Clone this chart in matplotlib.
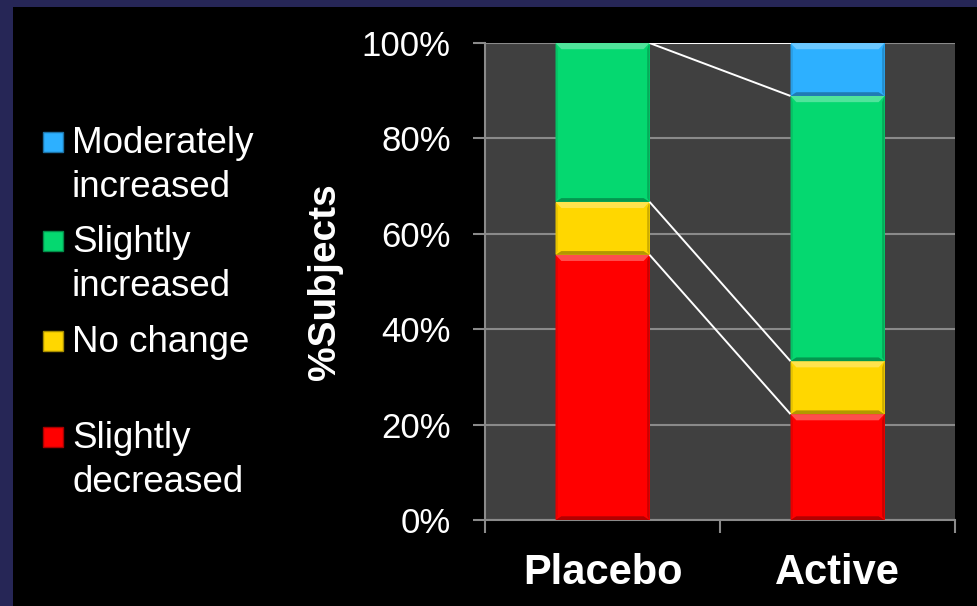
import numpy as np
import matplotlib.pyplot as plt
from matplotlib.patches import Rectangle, Polygon
import matplotlib.colors as mcolors

plt.rcParams['font.family'] = ['Liberation Sans', 'DejaVu Sans']

# Data (% of subjects)
groups = ['Placebo', 'Active']
series = ['Slightly\ndecreased', 'No change', 'Slightly\nincreased', 'Moderately\nincreased']
colors = ['#ff0000', '#ffd700', '#05d870', '#2db0ff']
values = {
    'Placebo': [55.6, 11.1, 33.3, 0.0],
    'Active': [22.2, 11.1, 55.6, 11.1],
}
yticks = [0, 20, 40, 60, 80, 100]

W, H = 978, 606
fig = plt.figure(figsize=(W / 100, H / 100), dpi=100, facecolor='#262656')
# black slide area inside the navy border
fig.patches.append(Rectangle((13 / W, 0), 1, 1 - 7 / H, transform=fig.transFigure,
                             facecolor='black', edgecolor='none', zorder=-5))

ax = fig.add_axes([485 / W, 86 / H, 470 / W, 477 / H])
ax.set_zorder(2)
ax.set_facecolor('#404040')

x = np.arange(len(groups))
width = 0.4


def shade(c, f):
    r = np.array(mcolors.to_rgb(c))
    if f > 0:
        r = r + (1 - r) * f
    else:
        r = r * (1 + f)
    return tuple(np.clip(r, 0, 1))


def bevel_bar(ax, xc, bottom, height, color):
    if height <= 0:
        return
    x0, x1 = xc - width / 2, xc + width / 2
    y0, y1 = bottom, bottom + height
    ax.add_patch(Rectangle((x0, y0), width, height, facecolor=color,
                           edgecolor='none', zorder=3))
    dx, dy = 0.025, 1.3
    dy = min(dy, height / 3)
    ax.add_patch(Polygon([(x0, y1), (x1, y1), (x1 - dx, y1 - dy), (x0 + dx, y1 - dy)],
                         facecolor=shade(color, 0.3), edgecolor='none', zorder=4))
    ax.add_patch(Polygon([(x0, y0), (x1, y0), (x1 - dx, y0 + dy * 0.6), (x0 + dx, y0 + dy * 0.6)],
                         facecolor=shade(color, -0.3), edgecolor='none', zorder=4))
    ax.add_patch(Polygon([(x1, y0), (x1, y1), (x1 - dx * 0.4, y1 - dy), (x1 - dx * 0.4, y0 + dy * 0.6)],
                         facecolor=shade(color, -0.2), edgecolor='none', zorder=4))
    ax.add_patch(Polygon([(x0, y0), (x0, y1), (x0 + dx * 0.4, y1 - dy), (x0 + dx * 0.4, y0 + dy * 0.6)],
                         facecolor=shade(color, -0.1), edgecolor='none', zorder=4))


tops = {}
for i, g in enumerate(groups):
    cum = np.cumsum(values[g])
    tops[g] = cum
    bottoms = np.concatenate([[0], cum[:-1]])
    for v, b, c in zip(values[g], bottoms, colors):
        bevel_bar(ax, x[i], b, v, c)

# series lines between the stacks
for k in range(len(series)):
    ax.plot([x[0] + width / 2, x[1] - width / 2], [tops[groups[0]][k], tops[groups[1]][k]],
            color='white', lw=1.4, zorder=5, solid_capstyle='butt')

ax.set_xlim(-0.5, 1.5)
ax.set_ylim(0, 100)
ax.set_yticks(yticks)
ax.set_yticklabels([f'{t}%' for t in yticks])
ax.yaxis.grid(True, color='#8a8a8a', lw=1.5, zorder=1)
ax.set_axisbelow(True)

ax.set_xticks(x)
ax.set_xticklabels(groups, fontsize=30, fontweight='bold', color='white')
ax.set_xticks([-0.5, 0.5, 1.5], minor=True)
ax.tick_params(axis='x', which='major', length=0, pad=24)
ax.tick_params(axis='x', which='minor', length=9.5, width=1.5, color='#8a8a8a')
ax.tick_params(axis='y', length=8.6, width=1.5, color='#8a8a8a', labelsize=25,
               labelcolor='white', pad=16)

for s in ['top', 'right']:
    ax.spines[s].set_visible(False)
for s in ['left', 'bottom']:
    ax.spines[s].set_color('#8a8a8a')
    ax.spines[s].set_linewidth(1.5)

fig.text(325 / W, 1 - 282 / H, '%Subjects', rotation=90, ha='center', va='center',
         fontsize=28, fontweight='bold', color='white')

# legend drawn by hand (top series first)
leg_y = [153, 252, 352, 448]  # baseline of first line, px from top
line_gap = 44
sq = 20
for name, c, yb in zip(series[::-1], colors[::-1], leg_y):
    yc = 1 - (yb - 11) / H
    fig.patches.append(Rectangle((43 / W, yc - sq / 2 / H), sq / W, sq / H,
                                 transform=fig.transFigure, facecolor=c,
                                 edgecolor=shade(c, -0.35), lw=1, zorder=3))
    for j, line in enumerate(name.split('\n')):
        fig.text(72 / W, 1 - (yb + j * line_gap) / H, line, ha='left', va='baseline',
                 fontsize=26.5, color='white')

fig.savefig('out.png', dpi=100, facecolor=fig.get_facecolor())
